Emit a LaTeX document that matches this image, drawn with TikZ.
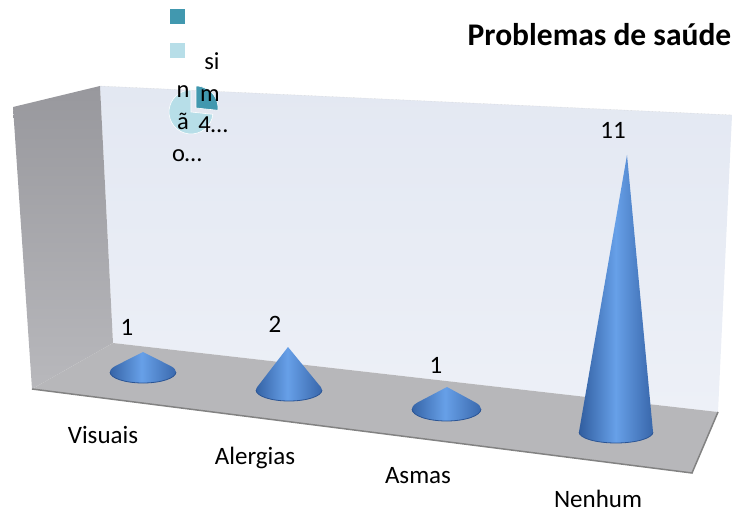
\documentclass[tikz,border=0pt]{standalone}
\usepackage{fontspec}
\setmainfont{Carlito}
\definecolor{wallback}{HTML}{E3E8F2}
\definecolor{wallbackb}{HTML}{EDF0F7}
\definecolor{wallleft}{HTML}{98989D}
\definecolor{wallleftb}{HTML}{B8B8BC}
\definecolor{floorc}{HTML}{B7B7BA}
\definecolor{flooredge}{HTML}{828282}
\definecolor{conedark}{HTML}{2F5C9E}
\definecolor{conelight}{HTML}{67A0E8}
\definecolor{conedarkr}{HTML}{3866AA}
\definecolor{conerim}{HTML}{2A5494}
\definecolor{piedark}{HTML}{4198AF}
\definecolor{pielight}{HTML}{B7DEE8}
\usetikzlibrary{calc}
\newcommand\drawcone[6]{%
  \pgfmathsetmacro\conealpha{asin(#6/(#4-#2))}%
  \shade[left color=conedark,right color=conedarkr,middle color=conelight]
    (#1,#2) -- ($(#3,#4)+(180+\conealpha:#5 and #6)$)
    arc[start angle=180+\conealpha,end angle=-\conealpha,x radius=#5,y radius=#6] -- cycle;
  \draw[conerim,line width=0.8pt]
    ($(#3,#4)+(180:#5 and #6)$) arc[start angle=180,end angle=0,x radius=#5,y radius=#6];
}
\begin{document}
\begin{tikzpicture}[x=1pt,y=-1pt,
  lbl/.style={font=\fontsize{25}{30}\selectfont,inner sep=0pt,anchor=base},
  pielbl/.style={font=\fontsize{24.5}{30}\selectfont,inner sep=0pt,anchor=base},
  ttl/.style={font=\fontsize{31.5}{38}\selectfont\bfseries,inner sep=0pt,anchor=base}]
\useasboundingbox (0,0) rectangle (736,513);
% walls
\shade[top color=wallback,bottom color=wallbackb] (100,86) -- (732,115) -- (718,412) -- (113,343) -- cycle;
\draw[gray!40,densely dotted,line width=0.4pt] (100,86) -- (732,115);
\shade[top color=wallleft,bottom color=wallleftb] (13,107) -- (100,86) -- (113,343) -- (32,389) -- cycle;
\fill[floorc] (32,389) -- (113,343) -- (718,412) -- (692,473) -- cycle;
\draw[flooredge,line width=1.5pt] (32,389) -- (692,473) -- (718,412);
% cones
\drawcone{143}{352}{143}{372}{33}{11}
\drawcone{288}{347}{289}{390}{33}{11}
\drawcone{447}{387}{446.5}{409}{34.5}{12}
\drawcone{627}{155}{616}{432}{37}{11}
% data labels
\node[lbl] (v1) at (127,335) {1};
\node[lbl] (v2) at (275,332) {2};
\node[lbl] (v3) at (436,373) {1};
\node[lbl] (v4) at (613,139) {11};
% category labels
\node[lbl] (c1) at (103,443) {Visuais};
\node[lbl] (c2) at (255,464) {Alergias};
\node[lbl] (c3) at (418,483) {Asmas};
\node[lbl] (c4) at (598,507) {Nenhum};
% title
\node[ttl] (title) at (599.5,46) {Problemas de saúde};
% legend squares
\fill[piedark] (170,9) rectangle (185,24);
\fill[pielight] (170,43) rectangle (185,58);
% pie
\fill[pielight,draw=white,line width=0.6pt] (191,112) -- ++(6:22) arc[start angle=6,end angle=270,radius=22] -- cycle;
\fill[piedark,draw=white,line width=0.6pt] (196,108) -- ++(-90:22) arc[start angle=-90,end angle=6,radius=22] -- cycle;
% pie labels
\node[pielbl] (s1) at (212,70) {si};
\node[pielbl] (s2) at (210,102) {m};
\node[pielbl] (s3) at (213,133) {4…};
\node[pielbl] (n1) at (183,98) {n};
\node[pielbl] (n2) at (183,130) {ã};
\node[pielbl] (n3) at (187,162) {o…};
\end{tikzpicture}
\end{document}
